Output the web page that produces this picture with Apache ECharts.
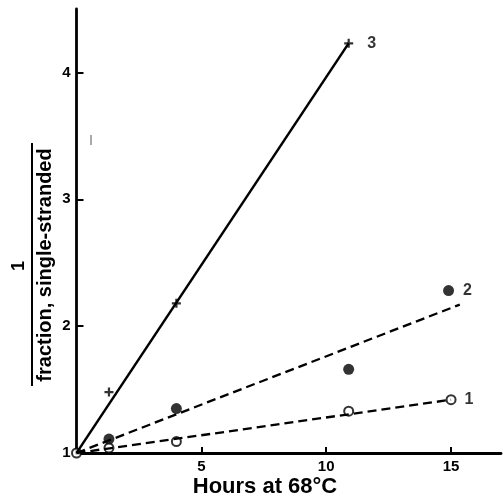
<!DOCTYPE html>
<html><head><meta charset="utf-8">
<script src="https://cdn.jsdelivr.net/npm/echarts@6/dist/echarts.min.js"></script>
<style>html,body{margin:0;padding:0;background:#fff}#c{width:503px;height:500px}</style>
</head><body><div id="c"></div>
<script>
// Curve 1 (open circles)
const hours1 = [0, 1.3, 4, 10.9, 15];
const val1 = [1, 1.04, 1.09, 1.33, 1.42];
// Curve 2 (filled circles)
const hours2 = [1.3, 4, 10.9, 14.9];
const val2 = [1.11, 1.35, 1.66, 2.28];
// Curve 3 (plus marks)
const hours3 = [1.3, 4, 10.9];
const val3 = [1.48, 2.18, 4.23];
// Fitted lines
const fit1X = [0, 15], fit1Y = [1, 1.42];
const fit2X = [0, 15.35], fit2Y = [1, 2.17];
const fit3X = [0, 10.9], fit3Y = [1, 4.23];
const curveNames = ['1', '2', '3'];
const xTicks = [5, 10, 15];
const yTicks = [1, 2, 3, 4];

const zip = (a, b) => a.map((v, i) => [v, b[i]]);
const F = 'Liberation Sans, Arial, sans-serif';
const plus = 'path://M-1,-4H1V-1H4V1H1V4H-1V1H-4V-1H-1Z';

function withEndLabel(pts, name, dist) {
  return pts.map((p, i) => i === pts.length - 1
    ? { value: p, label: { show: true, formatter: name, position: 'right', distance: dist,
        color: '#000', fontSize: 16, fontFamily: F, fontWeight: 'bold' } }
    : p);
}

const chart = echarts.init(document.getElementById('c'));
chart.setOption({
  animation: false,
  backgroundColor: '#fff',
  grid: { left: 76.5, right: 2, top: 9, bottom: 47, containLabel: false },
  xAxis: {
    type: 'value', min: 0, max: 17, interval: 5,
    splitLine: { show: false },
    axisLine: { onZero: false, lineStyle: { color: '#000', width: 2.8 } },
    axisTick: { inside: true, length: 6, lineStyle: { color: '#000', width: 2 }, customValues: xTicks },
    axisLabel: { color: '#000', fontSize: 15, fontFamily: F, fontWeight: 'bold', margin: 6, customValues: xTicks }
  },
  yAxis: {
    type: 'value', min: 1, max: 4.5, interval: 1,
    splitLine: { show: false },
    axisLine: { onZero: false, lineStyle: { color: '#000', width: 2.8 } },
    axisTick: { inside: true, length: 7, lineStyle: { color: '#000', width: 2 }, customValues: yTicks },
    axisLabel: { color: '#000', fontSize: 15, fontFamily: F, fontWeight: 'bold', margin: 6, customValues: yTicks }
  },
  graphic: [
    { type: 'text', x: 265, y: 487, style: { text: 'Hours at 68°C', fill: '#000', font: 'bold 22px ' + F, textAlign: 'center', textVerticalAlign: 'middle' } },
    { type: 'text', x: 45, y: 265, rotation: Math.PI / 2, style: { text: 'fraction, single-stranded', fill: '#000', font: 'bold 20px ' + F, textAlign: 'center', textVerticalAlign: 'middle' } },
    { type: 'text', x: 19, y: 266, rotation: Math.PI / 2, style: { text: '1', fill: '#000', font: 'bold 18px ' + F, textAlign: 'center', textVerticalAlign: 'middle' } },
    { type: 'line', shape: { x1: 32, y1: 143, x2: 32, y2: 386 }, style: { stroke: '#000', lineWidth: 2 } },
    { type: 'line', shape: { x1: 91, y1: 135, x2: 91, y2: 145 }, style: { stroke: '#555', lineWidth: 1 } }
  ],
  series: [
    { type: 'line', data: zip(fit3X, fit3Y), symbol: 'none', lineStyle: { color: '#000', width: 2.3 } },
    { type: 'line', data: zip(fit2X, fit2Y), symbol: 'none', lineStyle: { color: '#000', width: 2.3, type: [9, 5] } },
    { type: 'line', data: zip(fit1X, fit1Y), symbol: 'none', lineStyle: { color: '#000', width: 2.3, type: [9, 5] } },
    { type: 'scatter', data: withEndLabel(zip(hours3, val3), curveNames[2], 14), symbol: plus, symbolSize: 9,
      itemStyle: { color: '#000' } },
    { type: 'scatter', data: withEndLabel(zip(hours2, val2), curveNames[1], 9), symbol: 'circle', symbolSize: 11,
      itemStyle: { color: '#000' } },
    { type: 'scatter', data: withEndLabel(zip(hours1, val1), curveNames[0], 8), symbol: 'circle', symbolSize: 9,
      itemStyle: { color: '#fff', borderColor: '#000', borderWidth: 2 } }
  ]
});
</script></body></html>
